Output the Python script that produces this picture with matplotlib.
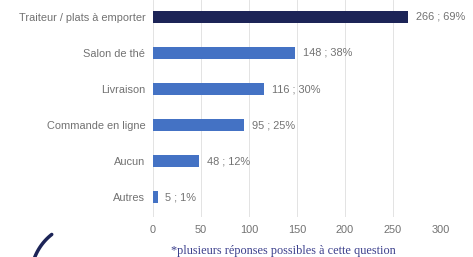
import numpy as np
import matplotlib
matplotlib.use("Agg")
import matplotlib.pyplot as plt
from matplotlib.lines import Line2D

# données
categories = [
    "Traiteur / plats à emporter",
    "Salon de thé",
    "Livraison",
    "Commande en ligne",
    "Aucun",
    "Autres",
]
counts = [266, 148, 116, 95, 48, 5]
percents = [69, 38, 30, 25, 12, 1]
ticks = [0, 50, 100, 150, 200, 250, 300]
note = "*plusieurs réponses possibles à cette question"

plt.rcParams["font.family"] = ["Liberation Sans", "DejaVu Sans"]

fig = plt.figure(figsize=(4.73, 2.57), dpi=100)
ax = fig.add_axes([153 / 473, 1 - 217 / 257, (441 - 153) / 473, 217 / 257])

colors = ["#1c2457"] + ["#4472c4"] * (len(categories) - 1)
y = np.arange(len(categories))
ax.barh(y, counts, height=0.34, color=colors, zorder=3)

for yi, c, p in zip(y, counts, percents):
    ax.text(c + 8, yi, f"{c} ; {p}%", va="center", ha="left",
            fontsize=7.9, color="#727272")

ax.set_yticks(y)
ax.set_yticklabels(categories, fontsize=7.9, color="#727272")
ax.set_xticks(ticks)
ax.set_xticklabels([str(t) for t in ticks], fontsize=7.9, color="#727272")
ax.set_xlim(0, 300)
ax.set_ylim(5.55, -0.47)
ax.tick_params(length=0, pad=5.5)
ax.tick_params(axis="x", pad=6)
ax.grid(axis="x", color="#e3e3e3", linewidth=0.7, zorder=0)
for s in ax.spines.values():
    s.set_visible(False)

fig.text(283 / 473, 1 - 251 / 257, note, ha="center", va="center",
         fontsize=8.8, color="#3b3f8c", family=["Liberation Serif", "DejaVu Serif"])

# petit arc décoratif (logo) en bas à gauche
th = np.linspace(np.radians(128), np.radians(162), 40)
cx, cy, r = 85, -20, 54
xs = (cx + r * np.cos(th)) / 473
ys = (cy + r * np.sin(th)) / 257
fig.add_artist(Line2D(xs, ys, transform=fig.transFigure, color="#1c2457",
                      linewidth=2.5, solid_capstyle="round"))

fig.savefig("out.png", dpi=100)
